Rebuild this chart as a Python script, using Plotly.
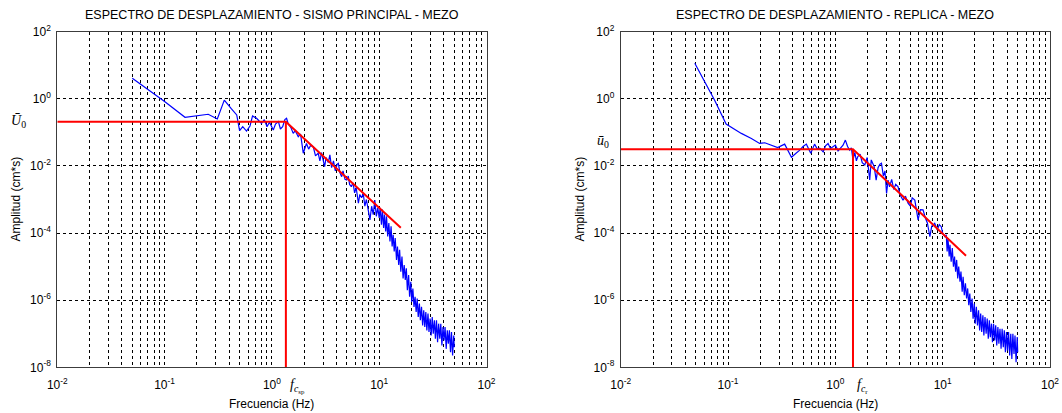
import numpy as np
import plotly.graph_objects as go

# ---------------- Displacement spectrum: main shock (SISMO PRINCIPAL) ----------------
# frequencies in Hz, amplitudes stored as log10(cm*s)
freq_ppal_low = [0.05, 0.10, 0.155, 0.20, 0.255, 0.31, 0.36, 0.42, 0.47, 0.50,
                 0.535, 0.58, 0.625, 0.66, 0.72, 0.76, 0.80, 0.85, 0.90, 0.95,
                 1.03, 1.08, 1.15, 1.20, 1.26, 1.32, 1.37, 1.42, 1.50, 1.58]
logamp_ppal_low = [0.61, -0.08, -0.55, -0.50, -0.46, -0.60, -0.04, -0.30, -0.48, -0.95,
                   -0.83, -0.96, -0.81, -0.51, -0.58, -0.66, -0.73, -0.62, -0.83, -0.70,
                   -0.93, -0.75, -0.68, -0.90, -0.83, -0.62, -0.58, -0.75, -0.85, -1.03]

freq_ppal_mid = [1.65, 1.76, 1.85, 1.96, 2.05, 2.1, 2.2, 2.3, 2.43, 2.55,
                 2.7, 2.8, 2.9, 3.0, 3.1, 3.2, 3.35, 3.47, 3.6, 3.75,
                 3.9, 4.05, 4.16, 4.3, 4.47, 4.6, 4.8, 4.98, 5.15, 5.3,
                 5.5, 5.7, 5.9, 6.1, 6.4, 6.6, 6.85, 7.1, 7.35, 7.6,
                 7.9, 8.2, 8.5, 8.8, 9.1, 9.4, 9.7, 10.0]
logamp_ppal_mid = [-0.95, -1.13, -1.05, -1.62, -1.40, -1.33, -1.50, -1.38, -1.43, -1.70,
                   -1.62, -1.85, -1.60, -1.80, -2.02, -1.75, -1.90, -1.67, -2.05, -1.85,
                   -2.15, -1.95, -1.92, -2.20, -2.32, -2.15, -2.40, -2.42, -2.30, -2.55,
                   -2.62, -2.50, -2.80, -2.65, -3.11, -2.85, -2.95, -2.82, -3.20, -3.00,
                   -3.35, -3.61, -3.20, -3.45, -3.02, -3.50, -3.25, -3.55]

freq_ppal_high = [10.2, 10.5, 10.7, 11.0, 11.2, 11.5, 11.7, 12.0, 12.3, 12.6,
                  12.9, 13.2, 13.5, 13.8, 14.1, 14.5, 14.8, 15.2, 15.5, 15.9,
                  16.3, 16.7, 17.1, 17.5, 17.9, 18.3, 18.8, 19.2, 19.7, 20.1,
                  20.6, 21.1, 21.6, 22.1, 22.6, 23.1, 23.7, 24.2, 24.8, 25.4,
                  26.0, 26.6, 27.2, 27.8, 28.5, 29.1, 29.8, 30.5, 31.2, 31.9,
                  32.7, 33.4, 34.2, 35.0, 35.8, 36.7, 37.5, 38.4, 39.3, 40.2,
                  41.1, 42.1, 43.1, 44.1, 45.1, 46.2, 47.2, 48.3, 49.5, 50.0]
logamp_ppal_high = [-3.25, -3.75, -3.30, -3.85, -3.45, -3.95, -3.50, -4.10, -3.70, -4.25,
                    -3.80, -4.40, -4.05, -4.55, -4.15, -4.80, -4.40, -4.95, -4.50, -5.15,
                    -4.70, -5.35, -4.95, -5.40, -5.05, -5.70, -5.25, -5.90, -5.45, -6.05,
                    -5.65, -6.20, -5.90, -6.35, -5.95, -6.50, -6.10, -6.60, -6.20, -6.75,
                    -6.30, -6.80, -6.35, -6.90, -6.40, -6.95, -6.55, -7.05, -6.50, -7.00,
                    -6.60, -7.15, -6.60, -7.25, -6.70, -7.15, -6.70, -7.35, -6.80, -7.20,
                    -6.80, -7.45, -6.90, -7.30, -6.90, -7.55, -6.95, -7.65, -7.05, -7.40]

# Brune-type fit: plateau U0 up to corner frequency fc, then decay
model_ppal_freq = [0.01, 1.35, 15.9]
model_ppal_amp = [0.208, 0.208, 1.45e-4]

# ---------------- Displacement spectrum: aftershock (REPLICA) ----------------
freq_rep_low = [0.049, 0.075, 0.096, 0.133, 0.165, 0.197, 0.22, 0.25, 0.29, 0.337,
                0.39, 0.43, 0.466, 0.50, 0.537, 0.59, 0.64, 0.68, 0.716, 0.77,
                0.81, 0.855, 0.90, 0.95, 1.00, 1.06, 1.12, 1.18, 1.24, 1.30,
                1.36, 1.41, 1.46, 1.52, 1.57, 1.62]
logamp_rep_low = [1.06, -0.04, -0.75, -1.03, -1.18, -1.33, -1.31, -1.38, -1.45, -1.35,
                  -1.74, -1.62, -1.53, -1.42, -1.35, -1.62, -1.35, -1.50, -1.47, -1.58,
                  -1.40, -1.33, -1.48, -1.43, -1.38, -1.55, -1.45, -1.38, -1.23, -1.42,
                  -1.53, -1.46, -1.82, -1.60, -1.85, -1.72]

freq_rep_mid = [1.70, 1.78, 1.88, 1.98, 2.09, 2.16, 2.3, 2.4, 2.5, 2.6,
                2.69, 2.8, 2.9, 3.0, 3.1, 3.2, 3.35, 3.5, 3.65, 3.84,
                4.0, 4.27, 4.5, 4.76, 5.0, 5.2, 5.5, 5.7, 5.9, 6.2,
                6.56, 6.9, 7.2, 7.6, 7.9, 8.43, 8.9, 9.3, 9.7, 10.0,
                10.5]
logamp_rep_mid = [-1.65, -1.90, -1.97, -1.75, -2.42, -1.82, -2.02, -2.42, -2.05, -1.95,
                  -1.92, -2.30, -2.15, -2.82, -2.42, -2.62, -2.40, -2.70, -2.55, -2.62,
                  -2.85, -3.02, -2.90, -3.11, -3.20, -2.95, -3.02, -3.35, -3.61, -3.30,
                  -3.31, -3.55, -3.70, -4.11, -3.80, -3.71, -3.90, -3.75, -3.81, -4.00,
                  -4.11]

freq_rep_high = [10.8, 11.0, 11.2, 11.5, 11.7, 12.0, 12.3, 12.6, 12.9, 13.2,
                 13.5, 13.8, 14.1, 14.5, 14.8, 15.2, 15.5, 15.9, 16.3, 16.7,
                 17.1, 17.5, 17.9, 18.3, 18.8, 19.2, 19.7, 20.1, 20.6, 21.1,
                 21.6, 22.1, 22.6, 23.1, 23.7, 24.2, 24.8, 25.4, 26.0, 26.6,
                 27.2, 27.8, 28.5, 29.1, 29.8, 30.5, 31.2, 31.9, 32.7, 33.4,
                 34.2, 35.0, 35.8, 36.7, 37.5, 38.4, 39.3, 40.2, 41.1, 42.1,
                 43.1, 44.1, 45.1, 46.2, 47.2, 48.3, 49.5, 50.0]
logamp_rep_high = [-4.05, -4.55, -4.15, -4.70, -4.35, -4.85, -4.45, -5.00, -4.70, -5.15,
                   -4.80, -5.35, -5.00, -5.45, -5.15, -5.75, -5.30, -5.85, -5.50, -5.95,
                   -5.65, -6.15, -5.80, -6.35, -5.95, -6.55, -6.10, -6.70, -6.20, -6.75,
                   -6.30, -6.90, -6.40, -6.95, -6.45, -7.05, -6.50, -7.00, -6.55, -7.15,
                   -6.60, -7.10, -6.70, -7.25, -6.70, -7.20, -6.75, -7.35, -6.80, -7.30,
                   -6.85, -7.45, -6.85, -7.40, -6.90, -7.55, -6.95, -7.50, -6.95, -7.65,
                   -7.00, -7.75, -7.00, -7.60, -7.05, -7.85, -7.10, -7.55]

model_rep_freq = [0.01, 1.46, 16.5]
model_rep_amp = [0.0313, 0.0313, 2.11e-5]

AMP_FLOOR = 1e-8  # bottom of the amplitude axis

# axis ticks
x_exponents = [-2, -1, 0, 1, 2]
y_exponents = [-8, -6, -4, -2, 0, 2]

titles = ["ESPECTRO DE DESPLAZAMIENTO - SISMO PRINCIPAL - MEZO",
          "ESPECTRO DE DESPLAZAMIENTO - REPLICA - MEZO"]
x_title = "Frecuencia (Hz)"
y_title = "Amplitud (cm*s)"
u0_labels = ["<i>Ū</i><sub>0</sub>", "<i>ū</i><sub>0</sub>"]
fc_labels = ["<i>f</i><sub><i>c</i><sub>sp</sub></sub>", "<i>f</i><sub><i>c</i><sub>r</sub></sub>"]


def series(*parts):
    f, a = [], []
    for fr, la in parts:
        assert len(fr) == len(la)
        f += fr
        a += la
    return np.array(f), 10.0 ** np.array(a)


f_ppal, a_ppal = series((freq_ppal_low, logamp_ppal_low),
                        (freq_ppal_mid, logamp_ppal_mid),
                        (freq_ppal_high, logamp_ppal_high))
f_rep, a_rep = series((freq_rep_low, logamp_rep_low),
                      (freq_rep_mid, logamp_rep_mid),
                      (freq_rep_high, logamp_rep_high))

W, H = 1062, 413
FONT = "Liberation Sans"
SERIF = "Liberation Serif"
BLUE = "#0000ff"
RED = "#ff0000"

fig = go.Figure()

panels = [
    ("x", "y", f_ppal, a_ppal, model_ppal_freq, model_ppal_amp),
    ("x2", "y2", f_rep, a_rep, model_rep_freq, model_rep_amp),
]
for xa, ya, f, a, mf, ma in panels:
    fig.add_trace(go.Scatter(x=f, y=a, mode="lines", xaxis=xa, yaxis=ya,
                             line=dict(color=BLUE, width=1.2), showlegend=False))
    fig.add_trace(go.Scatter(x=mf, y=ma, mode="lines", xaxis=xa, yaxis=ya,
                             line=dict(color=RED, width=2), showlegend=False))
    fig.add_trace(go.Scatter(x=[mf[1], mf[1]], y=[ma[1], AMP_FLOOR], mode="lines",
                             xaxis=xa, yaxis=ya,
                             line=dict(color=RED, width=2), showlegend=False))


def power_label(e):
    return "10<sup>%d</sup>" % e


x_minor = [k * 10.0 ** e for e in x_exponents[:-1] for k in range(2, 10)]

grid = dict(showgrid=True, gridcolor="#000000", gridwidth=1, griddash="3px,3px")
frame = dict(showline=True, linecolor="#3c3c3c", linewidth=1, mirror=True,
             ticks="", zeroline=False, automargin=False, ticklabeloverflow="allow",
             tickfont=dict(family=FONT, size=12, color="#000000"))

xdom = [[57.3 / W, 486.5 / W], [620.7 / W, 1050 / W]]
ydom = [(H - 367.3) / H, (H - 31.7) / H]

for i, (xn, yn) in enumerate([("xaxis", "yaxis"), ("xaxis2", "yaxis2")]):
    fig.layout[xn] = dict(type="log", range=[-2, 2], domain=xdom[i],
                          anchor="y" if i == 0 else "y2",
                          tickmode="array", tickvals=[10.0 ** e for e in x_exponents],
                          ticktext=[power_label(e) for e in x_exponents],
                          ticklabelstandoff=6,
                          minor=dict(tickmode="array", tickvals=x_minor, showgrid=True,
                                     gridcolor="#000000", gridwidth=1,
                                     griddash="3px,3px", ticks=""),
                          **grid, **frame)
    fig.layout[yn] = dict(type="log", range=[-8, 2], domain=ydom,
                          anchor="x" if i == 0 else "x2",
                          tickmode="array", tickvals=[10.0 ** e for e in y_exponents],
                          ticktext=[power_label(e) for e in y_exponents],
                          ticklabelstandoff=3,
                          **grid, **frame)

ann = []
centers = [(xdom[0][0] + xdom[0][1]) / 2, (xdom[1][0] + xdom[1][1]) / 2]
for i in range(2):
    xa = "x" if i == 0 else "x2"
    ya = "y" if i == 0 else "y2"
    ann.append(dict(text=titles[i], xref="paper", yref="paper", x=centers[i], y=1 - 15 / H,
                    showarrow=False, xanchor="center", yanchor="middle",
                    font=dict(family=FONT, size=12.5, color="#000000")))
    ann.append(dict(text=x_title, xref="paper", yref="paper", x=centers[i], y=1 - 404 / H,
                    showarrow=False, xanchor="center", yanchor="middle",
                    font=dict(family=FONT, size=12, color="#000000")))
    ann.append(dict(text=y_title, xref="paper", yref="paper",
                    x=(15 if i == 0 else 579) / W, y=(ydom[0] + ydom[1]) / 2,
                    textangle=-90, showarrow=False, xanchor="center", yanchor="middle",
                    font=dict(family=FONT, size=12, color="#000000")))
    model_f = model_ppal_freq if i == 0 else model_rep_freq
    model_a = model_ppal_amp if i == 0 else model_rep_amp
    ann.append(dict(text=u0_labels[i], xref="paper", yref=ya,
                    x=(18 if i == 0 else 603) / W, y=np.log10(model_a[1]),
                    yshift=0 if i == 0 else 8,
                    showarrow=False, xanchor="center", yanchor="middle",
                    font=dict(family=SERIF, size=14, color="#000000")))
    ann.append(dict(text=fc_labels[i], xref=xa, yref="paper",
                    x=np.log10(model_f[1]), y=1 - 386 / H, xshift=2,
                    showarrow=False, xanchor="left", yanchor="middle",
                    font=dict(family=SERIF, size=14, color="#000000")))

fig.update_layout(template="none", width=W, height=H,
                  margin=dict(l=0, r=0, t=0, b=0, autoexpand=False),
                  paper_bgcolor="#ffffff", plot_bgcolor="#ffffff",
                  font=dict(family=FONT, size=12, color="#000000"),
                  annotations=ann, showlegend=False)

fig.write_html("out.html")
